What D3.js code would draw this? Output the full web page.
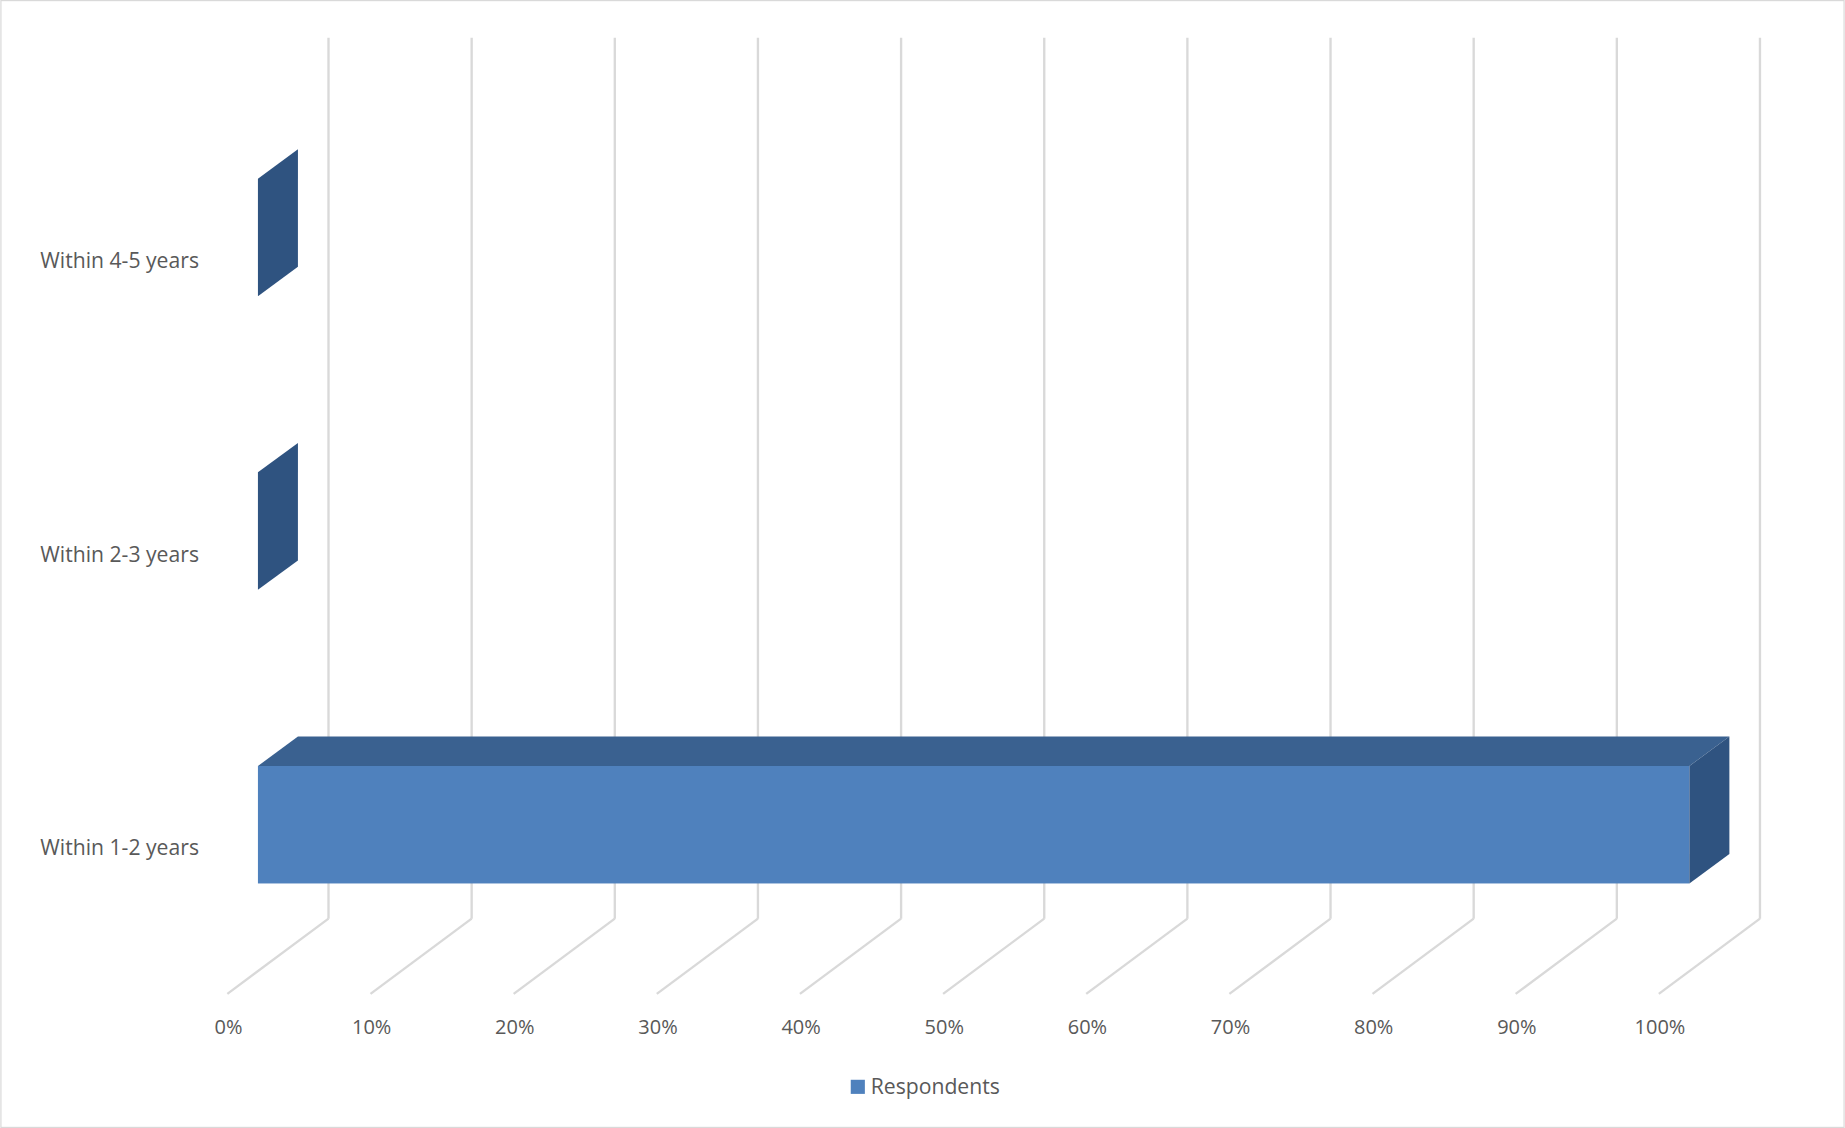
<!DOCTYPE html>
<html><head><meta charset="utf-8">
<script src="https://cdn.jsdelivr.net/npm/d3@7"></script>
<style>html,body{margin:0;padding:0;background:#fff}</style>
</head><body>
<script>
const categories = ["Within 4-5 years", "Within 2-3 years", "Within 1-2 years"];
const values = [0, 0, 1.0];
const ticks = [0,0.1,0.2,0.3,0.4,0.5,0.6,0.7,0.8,0.9,1.0];
const seriesName = "Respondents";

const svg = d3.select("body").append("svg")
  .attr("width",1845).attr("height",1128)
  .attr("viewBox","0 0 1568 959");
svg.append("rect").attr("x",0.5).attr("y",0.5).attr("width",1567).attr("height",958)
  .attr("fill","#fff").attr("stroke","#d9d9d9");

const x = d3.scaleLinear().domain([0,1]).range([219,1436]);
const y = d3.scaleBand().domain(categories).range([77,826]).paddingInner(0.6).paddingOuter(0.3);
const BX=60, BY=-45, FX=-26, FY=19, DX=34, DY=-25;
const font="'Open Sans', 'Noto Sans', sans-serif";

// gridlines
ticks.forEach(t=>{
  const gx=x(t)+BX;
  svg.append("line").attr("x1",gx).attr("y1",32).attr("x2",gx).attr("y2",781)
    .attr("stroke","#d9d9d9").attr("stroke-width",2);
  svg.append("line").attr("x1",gx).attr("y1",781).attr("x2",x(t)+FX).attr("y2",845)
    .attr("stroke","#d9d9d9").attr("stroke-width",2);
  svg.append("text").attr("x",x(t)+FX+1).attr("y",879).attr("text-anchor","middle")
    .attr("font-family",font).attr("font-size",17).attr("fill","#595959")
    .text(d3.format(".0%")(t));
});

// bars
categories.forEach((c,i)=>{
  const x0=x(0), x1=x(values[i]), y0=y(c), h=y.bandwidth();
  const g=svg.append("g");
  // top
  g.append("polygon").attr("points",[[x0,y0],[x0+DX,y0+DY],[x1+DX,y0+DY],[x1,y0]].join(" "))
    .attr("fill","#3a6190");
  // front
  if(x1>x0) g.append("rect").attr("x",x0).attr("y",y0).attr("width",x1-x0).attr("height",h).attr("fill","#4f81bd");
  // side
  g.append("polygon").attr("points",[[x1,y0],[x1+DX,y0+DY],[x1+DX,y0+DY+h],[x1,y0+h]].join(" "))
    .attr("fill","#2f5380");
  svg.append("text").attr("x",34).attr("y",y0+h/2+FY+7)
    .attr("font-family",font).attr("font-size",18).attr("fill","#595959").text(c);
});

// legend
svg.append("rect").attr("x",723).attr("y",918).attr("width",12).attr("height",12).attr("fill","#4f81bd");
svg.append("text").attr("x",740).attr("y",930).attr("font-family",font).attr("font-size",18)
  .attr("fill","#595959").text(seriesName);
</script>
</body></html>
